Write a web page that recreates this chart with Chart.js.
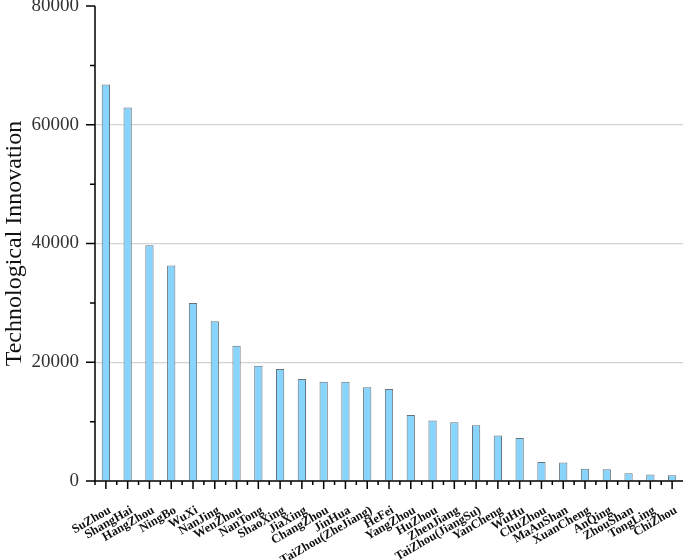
<!DOCTYPE html>
<html>
<head>
<meta charset="utf-8">
<script src="https://cdn.jsdelivr.net/npm/chart.js@4"></script>
<style>
html,body{margin:0;padding:0;background:#fff;}
#wrap{width:685px;height:560px;}
</style>
</head>
<body>
<div id="wrap"><canvas id="c" width="685" height="560"></canvas></div>
<script>
const cities = ['SuZhou','ShangHai','HangZhou','NingBo','WuXi','NanJing','WenZhou','NanTong','ShaoXing','JiaXing','ChangZhou','JinHua','TaiZhou(ZheJiang)','HeFei','YangZhou','HuZhou','ZhenJiang','TaiZhou(JiangSu)','YanCheng','WuHu','ChuZhou','MaAnShan','XuanCheng','AnQing','ZhouShan','TongLing','ChiZhou'];
const innovation = [66800,62900,39700,36300,30000,26900,22800,19400,18850,17200,16700,16700,15800,15500,11100,10200,9900,9400,7650,7260,3200,3100,2080,2000,1300,1100,950];
const yTicks = [0,20000,40000,60000,80000];
const yMinorTicks = [10000,30000,50000,70000];
const yTitle = 'Technological Innovation';

const axisTicks = {
  id:'axisTicks',
  afterDraw(chart){
    const ctx = chart.ctx, xs = chart.scales.x, ys = chart.scales.y, a = chart.chartArea;
    ctx.save();
    ctx.strokeStyle = '#000';
    ctx.lineWidth = 1.5;
    ctx.beginPath();
    ctx.moveTo(a.left, a.top); ctx.lineTo(a.left, a.bottom + 4);
    ctx.moveTo(a.left, a.bottom); ctx.lineTo(a.right, a.bottom);
    yTicks.forEach(v => { const p = ys.getPixelForValue(v); ctx.moveTo(a.left - 9, p); ctx.lineTo(a.left, p); });
    yMinorTicks.forEach(v => { const p = ys.getPixelForValue(v); ctx.moveTo(a.left - 5, p); ctx.lineTo(a.left, p); });
    for (let i = 0; i < cities.length; i++) {
      const p = xs.getPixelForValue(i);
      ctx.moveTo(p, a.bottom); ctx.lineTo(p, a.bottom + 8);
      if (i < cities.length - 1) {
        const q = (p + xs.getPixelForValue(i + 1)) / 2;
        ctx.moveTo(q, a.bottom); ctx.lineTo(q, a.bottom + 4);
      }
    }
    ctx.stroke();
    ctx.restore();
  }
};

new Chart(document.getElementById('c'), {
  type:'bar',
  data:{
    labels: cities,
    datasets:[{
      data: innovation,
      backgroundColor:'#87D4FC',
      borderColor:'#66737d',
      borderWidth:1,
      categoryPercentage:1,
      barPercentage:0.38
    }]
  },
  options:{
    responsive:false,
    animation:false,
    layout:{padding:{top:6,right:2,left:0,bottom:0}},
    plugins:{legend:{display:false},tooltip:{enabled:false}},
    scales:{
      x:{
        grid:{display:false,drawTicks:false},
        border:{display:false},
        ticks:{
          autoSkip:false,minRotation:30,maxRotation:30,padding:22,labelOffset:4,
          color:'#111',
          font:{family:'Liberation Serif',size:12.5,weight:'bold'}
        },
        afterFit(s){ s.height = 79; s.paddingLeft = 0; s.paddingRight = 0; }
      },
      y:{
        min:0,max:80000,
        afterBuildTicks(s){ s.ticks = yTicks.map(v => ({value:v})); },
        grid:{
          drawTicks:false,
          color: c => (c.tick && [20000,40000,60000].includes(c.tick.value)) ? '#d4d4d4' : 'rgba(0,0,0,0)',
          lineWidth:1.2
        },
        border:{display:false},
        ticks:{
          padding:16,color:'#333',
          font:{family:'Liberation Serif',size:19},
          callback: v => String(v)
        },
        title:{
          display:true,text:yTitle,color:'#111',
          font:{family:'Liberation Serif',size:24},
          padding:{top:0,bottom:0}
        },
        afterFit(s){ s.width = 95; s.paddingTop = 0; s.paddingBottom = 0; }
      }
    }
  },
  plugins:[axisTicks]
});
</script>
</body>
</html>
